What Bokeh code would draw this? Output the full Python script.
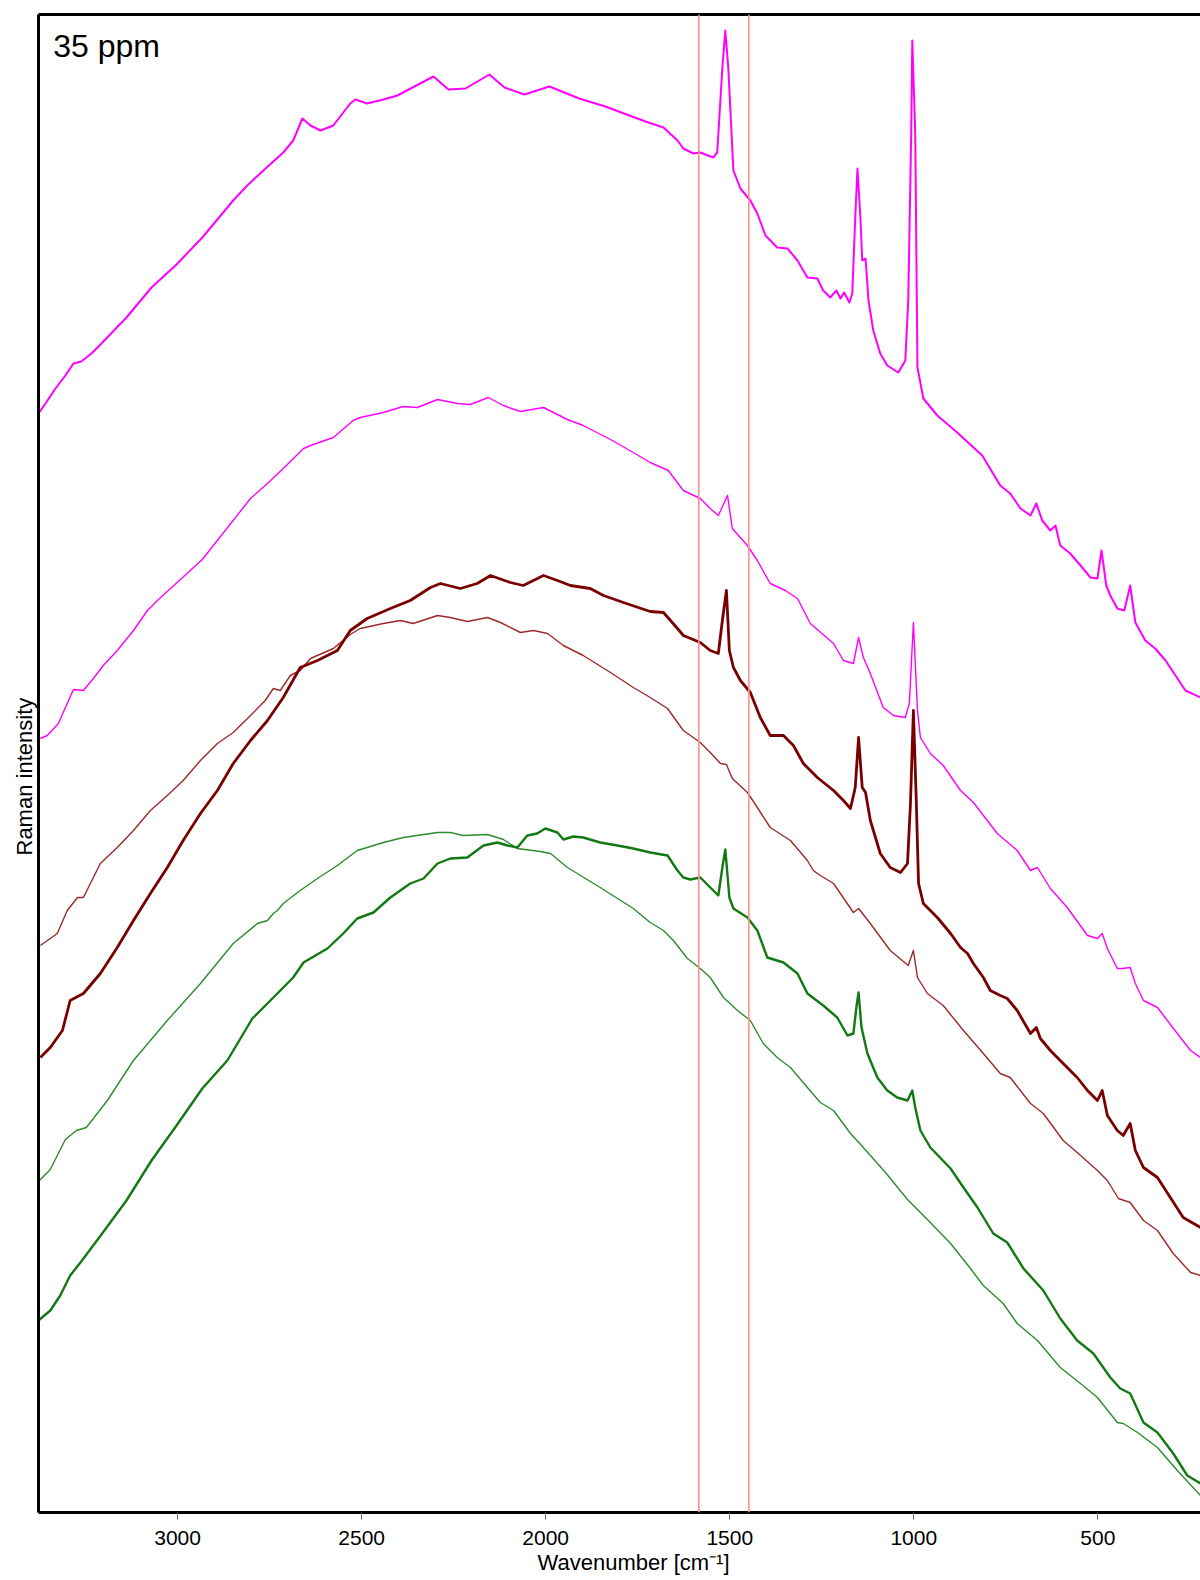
import math
from bokeh.plotting import figure
from bokeh.models import Range1d, FixedTicker, LinearAxis, Span, Label, Title
from bokeh.embed import file_html
from bokeh.resources import INLINE

# ---------------- data (wavenumber [cm-1], Raman intensity [a.u.]) ----------------
magenta_raw_wn = [3378, 3359, 3332, 3305, 3283, 3262, 3234, 3207, 3139, 3071, 3003, 2933, 2849, 2811,
                  2767, 2713, 2686, 2661, 2639, 2612, 2577, 2531, 2517, 2485, 2441, 2403, 2305, 2264,
                  2218, 2153, 2112, 2058, 1990, 1909, 1838, 1729, 1680, 1642, 1626, 1599, 1580, 1545,
                  1534, 1520, 1512, 1504, 1490, 1471, 1444, 1425, 1403, 1371, 1343, 1316, 1289, 1262,
                  1246, 1227, 1210, 1199, 1189, 1175, 1167, 1159, 1153, 1145, 1140, 1131, 1123, 1110,
                  1091, 1072, 1042, 1023, 1015, 1007, 1004, 996, 990, 974, 936, 882, 814, 765, 738,
                  710, 683, 667, 651, 629, 615, 602, 575, 547, 520, 501, 490, 477, 466, 447, 428, 412,
                  398, 371, 344, 316, 289, 262, 221]
magenta_raw_int = [1099, 1109, 1124, 1137, 1149, 1151, 1159, 1169, 1195, 1225, 1248, 1275, 1312, 1327,
                   1342, 1360, 1372, 1394, 1387, 1382, 1387, 1409, 1413, 1409, 1413, 1417, 1436, 1423,
                   1424, 1438, 1425, 1418, 1426, 1414, 1406, 1391, 1385, 1372, 1364, 1359, 1360, 1355,
                   1360, 1445, 1482, 1445, 1342, 1324, 1312, 1299, 1277, 1265, 1264, 1252, 1235, 1234,
                   1222, 1215, 1222, 1214, 1220, 1210, 1219, 1295, 1344, 1295, 1252, 1254, 1212, 1182,
                   1159, 1147, 1140, 1152, 1212, 1379, 1472, 1379, 1145, 1114, 1097, 1080, 1057, 1027, 1019,
                   1004, 997, 1009, 992, 982, 987, 967, 959, 947, 935, 934, 962, 927, 917, 904, 902, 927,
                   890, 872, 864, 852, 837, 822, 815]

magenta_smooth_wn = [3373, 3354, 3324, 3300, 3283, 3256, 3229, 3202, 3164, 3120, 3082, 3055, 2933, 2802,
                     2756, 2713, 2658, 2639, 2577, 2523, 2504, 2441, 2387, 2349, 2294, 2240, 2205, 2156,
                     2115, 2069, 2006, 1979, 1941, 1898, 1824, 1762, 1716, 1667, 1626, 1580, 1553, 1531,
                     1506, 1493, 1452, 1425, 1390, 1349, 1316, 1281, 1218, 1191, 1164, 1150, 1137, 1118,
                     1083, 1055, 1023, 1012, 1001, 990, 982, 955, 920, 873, 838, 773, 719, 683, 664, 629,
                     583, 528, 501, 488, 474, 447, 433, 412, 398, 376, 338, 284, 248, 221]
magenta_smooth_int = [774, 777, 789, 809, 823, 822, 834, 847, 862, 882, 902, 912, 953, 1014,
                      1029, 1044, 1064, 1067, 1075, 1092, 1095, 1100, 1106, 1105, 1113, 1109, 1108, 1115,
                      1107, 1101, 1105, 1100, 1093, 1087, 1073, 1060, 1050, 1042, 1022, 1014, 1004, 997,
                      1017, 984, 967, 952, 929, 922, 914, 889, 869, 852, 849, 875, 855, 839,
                      805, 797, 795, 809, 890, 802, 775, 759, 747, 722, 710, 679, 662, 642, 645, 624,
                      605, 577, 574, 579, 564, 544, 544, 545, 529, 512, 505, 479, 462, 455]

brown_raw_wn = [3373, 3346, 3313, 3292, 3256, 3210, 3164, 3120, 3074, 3028, 2985, 2938, 2892, 2849,
                2802, 2756, 2713, 2667, 2620, 2566, 2531, 2485, 2422, 2368, 2313, 2286, 2232, 2186,
                2150, 2096, 2061, 2006, 1968, 1933, 1879, 1843, 1789, 1716, 1680, 1642, 1626, 1580,
                1553, 1531, 1520, 1509, 1501, 1490, 1471, 1444, 1417, 1390, 1354, 1327, 1300, 1262,
                1218, 1191, 1172, 1159, 1150, 1140, 1131, 1118, 1091, 1064, 1036, 1017, 1009, 1001,
                993, 987, 974, 936, 900, 873, 854, 838, 811, 792, 765, 746, 719, 683, 667, 656, 629,
                594, 556, 528, 501, 488, 474, 447, 431, 412, 398, 376, 338, 303, 268, 221]
brown_raw_int = [455, 465, 482, 512, 519, 539, 565, 592, 619, 645, 672, 699, 722, 749,
                 772, 792, 815, 845, 852, 862, 882, 894, 904, 912, 925, 929, 924, 929,
                 937, 930, 927, 937, 932, 927, 924, 917, 910, 901, 900, 884, 877, 870,
                 862, 859, 892, 922, 862, 845, 832, 820, 795, 777, 777, 767, 749, 735,
                 722, 712, 704, 725, 775, 725, 720, 692, 659, 645, 640, 649, 709, 802,
                 709, 629, 609, 595, 579, 565, 559, 549, 535, 522, 517, 514, 502, 479, 485, 474, 462,
                 449, 435, 422, 412, 422, 397, 382, 377, 389, 362, 345, 335, 315, 295, 285]

brown_smooth_wn = [3373, 3327, 3300, 3272, 3256, 3210, 3164, 3120, 3074, 3028, 2985, 2938, 2892, 2849,
                   2802, 2762, 2740, 2721, 2694, 2667, 2639, 2577, 2531, 2504, 2441, 2395, 2360, 2294,
                   2259, 2213, 2158, 2123, 2069, 2033, 1995, 1952, 1898, 1824, 1762, 1716, 1669, 1626,
                   1580, 1553, 1525, 1509, 1493, 1452, 1425, 1390, 1335, 1289, 1273, 1254, 1218, 1164,
                   1150, 1118, 1064, 1015, 1001, 990, 963, 920, 865, 811, 765, 738, 683, 648, 594, 556,
                   501, 474, 444, 412, 376, 338, 295, 248, 221]
brown_smooth_int = [567, 579, 602, 615, 615, 649, 665, 682, 702, 717, 732, 752, 769, 780,
                    797, 812, 824, 822, 837, 842, 854, 864, 878, 884, 889, 892, 889, 897,
                    895, 891, 895, 890, 880, 882, 879, 867, 857, 840, 825, 815, 804, 782,
                    770, 760, 749, 748, 734, 720, 705, 685, 672, 652, 642, 637, 629, 600,
                    604, 589, 562, 547, 562, 535, 519, 507, 482, 459, 439, 435, 409, 399, 372, 360,
                    342, 332, 314, 310, 292, 282, 259, 240, 237]

green_raw_wn = [3378, 3346, 3319, 3292, 3264, 3207, 3139, 3071, 3003, 2933, 2865, 2797, 2748, 2686,
                2658, 2593, 2550, 2512, 2468, 2422, 2368, 2332, 2294, 2259, 2213, 2169, 2131, 2104,
                2077, 2050, 2023, 2001, 1968, 1952, 1925, 1898, 1852, 1805, 1762, 1716, 1669, 1642,
                1626, 1607, 1580, 1553, 1531, 1520, 1512, 1501, 1490, 1452, 1425, 1398, 1354, 1316,
                1289, 1246, 1208, 1180, 1164, 1156, 1150, 1142, 1126, 1099, 1072, 1045, 1017, 1004,
                996, 982, 955, 900, 865, 827, 784, 746, 702, 648, 602, 556, 512, 466, 439, 412, 376,
                338, 295, 257, 221]
green_raw_int = [192, 202, 217, 237, 250, 278, 312, 352, 387, 424, 452, 494, 512, 535,
                 550, 564, 579, 594, 600, 615, 629, 634, 649, 654, 655, 667, 670, 667,
                 665, 677, 679, 684, 680, 673, 676, 675, 670, 667, 664, 660, 657, 642,
                 635, 633, 635, 625, 617, 645, 663, 615, 604, 595, 582, 555, 550, 539,
                 519, 507, 495, 477, 479, 505, 520, 485, 459, 435, 422, 415, 412, 422,
                 405, 382, 365, 344, 325, 305, 279, 270, 244, 222, 194, 172, 159, 135, 124, 119, 90,
                 80, 59, 37, 29]

green_smooth_wn = [3378, 3346, 3305, 3275, 3248, 3191, 3120, 3028, 2938, 2849, 2783, 2756, 2740, 2729,
                   2713, 2667, 2620, 2566, 2512, 2441, 2387, 2294, 2259, 2224, 2158, 2115, 2077, 2015,
                   1987, 1941, 1852, 1762, 1716, 1680, 1653, 1615, 1580, 1553, 1517, 1479, 1444, 1409,
                   1371, 1335, 1289, 1254, 1218, 1172, 1137, 1077, 1017, 955, 900, 846, 811, 757, 719,
                   664, 602, 547, 501, 447, 431, 392, 338, 284, 221]
green_smooth_int = [331, 343, 373, 382, 385, 412, 452, 492, 529, 569, 589, 592, 599, 602,
                    609, 622, 634, 647, 662, 670, 675, 680, 680, 677, 678, 673, 664, 661,
                    659, 645, 625, 604, 590, 582, 572, 554, 544, 535, 515, 502, 492, 469,
                    455, 445, 425, 410, 402, 379, 365, 340, 313, 290, 269, 244, 227, 209, 189,
                    172, 145, 129, 115, 90, 89, 80, 65, 42, 17]

marker_lines = [1584, 1448]
x_ticks = [500, 1000, 1500, 2000, 2500, 3000]
x_start, x_end = 3378, 221
y_start, y_end = 0, 1498
panel_label = "35 ppm"
x_title = "Wavenumber [cm⁻¹]"
y_title = "Raman intensity"

FONT = "Liberation Sans"

p = figure(width=1200, height=1580, output_backend="svg", toolbar_location=None,
           x_range=Range1d(x_start, x_end), y_range=Range1d(y_start, y_end),
           min_border_left=38, min_border_right=0, min_border_top=14, min_border_bottom=68,
           x_axis_location=None, y_axis_location=None)
p.outline_line_color = None
p.xgrid.visible = False
p.ygrid.visible = False
p.background_fill_color = "white"
p.border_fill_color = "white"

xa = LinearAxis(ticker=FixedTicker(ticks=x_ticks), axis_line_width=3, axis_line_color="black",
                major_tick_out=7, major_tick_in=0, major_tick_line_color="#666666",
                minor_tick_out=0, minor_tick_in=0,
                major_label_text_font=FONT, major_label_text_font_size="21px",
                major_label_text_color="black", major_label_standoff=11)
p.add_layout(xa, "below")

ya = LinearAxis(ticker=FixedTicker(ticks=[]), axis_line_width=3, axis_line_color="black",
                major_tick_out=0, major_tick_in=0, minor_tick_out=0, minor_tick_in=0,
                major_label_text_font_size="0px", major_label_standoff=0)
p.add_layout(ya, "left")

ta = LinearAxis(ticker=FixedTicker(ticks=[]), axis_line_width=3, axis_line_color="black",
                major_tick_out=0, major_tick_in=0, minor_tick_out=0, minor_tick_in=0,
                major_label_text_font_size="0px", major_label_standoff=0)
p.add_layout(ta, "above")

p.add_layout(Title(text=x_title, align="left", offset=499, text_font=FONT, text_font_size="22px",
                   text_font_style="normal", text_color="black", standoff=0), "below")
p.add_layout(Title(text=y_title, align="left", offset=657, text_font=FONT, text_font_size="22px",
                   text_font_style="normal", text_color="black", standoff=3), "left")

for loc in marker_lines:
    p.add_layout(Span(location=loc, dimension="height", line_color="#ff8f8f", line_width=1.6))

p.line(green_smooth_wn, green_smooth_int, line_color="#2e8b2e", line_width=1.4, line_join="round")
p.line(green_raw_wn, green_raw_int, line_color="#137a13", line_width=2.4, line_join="round")
p.line(brown_smooth_wn, brown_smooth_int, line_color="#9c2a2a", line_width=1.4, line_join="round")
p.line(brown_raw_wn, brown_raw_int, line_color="#7a0000", line_width=2.8, line_join="round")
p.line(magenta_smooth_wn, magenta_smooth_int, line_color="#ff00ff", line_width=1.4, line_join="round")
p.line(magenta_raw_wn, magenta_raw_int, line_color="#ff00ff", line_width=2.0, line_join="round")

p.add_layout(Label(x=3338, y=1467, text=panel_label, text_font=FONT, text_font_size="32px",
                   text_color="black", text_align="left", text_baseline="alphabetic"))

open("out.html", "w").write(file_html(p, INLINE))
